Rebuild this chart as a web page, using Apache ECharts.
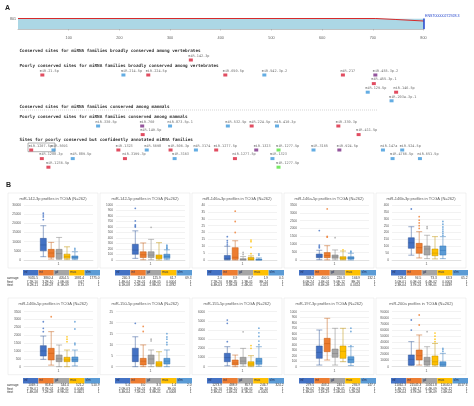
<!DOCTYPE html>
<html><head><meta charset="utf-8">
<script src="https://cdn.jsdelivr.net/npm/echarts@6/dist/echarts.min.js"></script>
<style>html,body{margin:0;padding:0;background:#fff}#c{width:474px;height:406px}</style>
</head><body><div id="c"></div>
<script>
// ================= Panel A data =================
const utrLength = 801;
const transcriptId = 'ENST00000272928.3';
const conservPos = [0, 706, 708, 744, 746, 801];
const conservVal = [100, 100, 91, 91, 76, 76];
const sectionTitles = [
  'Conserved sites for miRNA families broadly conserved among vertebrates',
  'Poorly conserved sites for miRNA families broadly conserved among vertebrates',
  'Conserved sites for miRNA families conserved among mammals',
  'Poorly conserved sites for miRNA families conserved among mammals',
  'Sites for poorly conserved but confidently annotated miRNA families'
];
const siteNames = ['miR-142-3p',
  'miR-21-5p','miR-214-5p','miR-224-5p','miR-650-5p','miR-542-3p.2','miR-217','miR-455-3p.2','miR-455-3p.1','miR-129-5p','miR-146-5p','miR-203a-3p.1',
  'miR-330-5p','miR-760','miR-149-5p','miR-873-5p.1','miR-532-5p','miR-224-5p','miR-410-3p','miR-330-3p','miR-411-5p',
  'miR-1207-5p','miR-5691','miR-1288-3p','miR-1236-5p','miR-889-5p','miR-1323','miR-3199-3p','miR-5698','miR-506-3p','miR-3163','miR-3174','miR-1277-5p','miR-1277-5p','miR-1323','miR-1323','miR-1277-5p','miR-1277-5p','miR-3165','miR-924-5p','miR-147a','miR-4766-5p','miR-524-5p','miR-651-5p'];
const sitePos = [341,
  48,208,257,409,486,641,705,702,690,746,737,
  158,245,246,300,414,461,511,632,672,
  26,70,47,60,108,198,211,254,301,309,351,391,428,470,502,514,514,583,634,720,739,758,793];
const siteSection = [0,
  1,1,1,1,1,1,1,1,1,1,1,
  3,3,3,3,3,3,3,3,3,
  4,4,4,4,4,4,4,4,4,4,4,4,4,4,4,4,4,4,4,4,4,4,4];
const siteLevel = [0,
  0,0,0,0,0,0,0,1,2,2,3,
  0,0,1,0,0,0,0,0,1,
  0,0,1,2,1,0,1,0,0,1,0,0,1,0,1,0,2,0,0,0,1,0,1];
const siteType = [0,
  0,1,0,0,1,0,2,0,1,0,1,
  1,2,0,1,1,0,1,0,0,
  0,1,0,0,1,0,0,1,0,1,1,0,0,2,1,3,3,1,2,1,1,1,1];

// ================= Panel B data =================
const groups = ['inf','int','gd','muc','slm'];
const chartTitles = ['miR-142-3p','miR-142-5p','miR-146a-3p','miR-146a-5p','miR-146b-3p',
  'miR-146b-5p','miR-150-5p','miR-155-5p','miR-197-3p','miR-200a'];
const yMax  = [30000, 1000, 40, 3500, 400, 3500, 25, 6000, 1000, 90000];
const yStep = [5000, 100, 5, 500, 50, 500, 5, 1000, 100, 10000];
const boxStats = [
  [[1800,5000,8200,11800,18700],[500,1500,3800,5800,9600],[300,800,3500,5800,12300],[200,900,1800,3200,7200],[200,800,1400,2200,4500]],
  [[30,105,180,285,530],[5,45,95,150,310],[5,45,90,150,375],[0,25,55,90,315],[5,30,65,105,185]],
  [[0,0.3,1,3.3,10],[0,0.5,2,9,14],[0,0.1,0.3,1,2.5],[0,0.2,0.6,1.8,3],[0,0.1,0.2,0.6,1.5]],
  [[20,150,250,380,620],[10,150,280,470,910],[10,110,200,320,640],[5,45,120,210,570],[5,60,130,205,430]],
  [[35,85,125,162,242],[15,49,90,121,206],[10,36,80,102,180],[8,31,50,80,170],[10,36,70,102,170]],
  [[470,680,1000,1340,1950],[100,430,850,1170,2230],[0,320,500,745,1380],[0,320,430,600,1060],[50,320,450,620,1060]],
  [[0,2.3,5,8.4,13.6],[0,0.8,2.5,3.8,9.9],[0,1.2,3.5,5.3,7.6],[0,0.3,1.2,2.3,6.8],[0,1.2,2.5,3.8,7.6]],
  [[100,545,1000,1460,2180],[0,185,400,730,1270],[50,290,600,1020,2000],[0,110,300,545,1200],[50,260,600,910,2180]],
  [[30,152,260,376,667],[121,273,420,516,880],[30,170,240,321,698],[91,152,280,376,698],[20,73,130,182,364]],
  [[2000,2700,12000,19100,41000],[2700,11000,18000,27300,51900],[1000,2800,9000,15400,32700],[1000,2800,8000,17500,38000],[500,1500,4000,8000,21800]]
];
const outliers = [
  [[0,22000],[0,23500],[0,24500],[0,25500],[4,5500],[4,6300]],
  [[0,600],[0,620],[0,640],[0,710],[0,940],[2,595],[4,200],[4,215],[4,230],[4,250],[4,270]],
  [[0,11],[0,12.5],[0,14],[0,17],[1,20],[1,28],[1,35.5],[2,4],[2,5.5],[3,4.6],[3,9.2],[3,13.3],[3,14.5],[4,3.5],[4,4.5]],
  [[0,780],[0,860],[0,950],[0,1870],[1,1450],[1,1500],[1,3250],[2,1420],[3,650],[4,500],[4,560]],
  [[0,371],[1,230],[1,250],[1,270],[1,290],[1,315],[2,230],[2,242],[4,180],[4,195],[4,210],[4,225],[4,240],[4,260],[4,280]],
  [[0,2230],[0,2440],[0,2860],[1,3180],[3,1590],[3,1750],[3,1900],[4,1400],[4,1500],[4,2400],[4,2860]],
  [[0,19.7],[1,16],[1,18.3],[2,11.7],[2,12.5],[4,10],[4,11],[4,12.5],[4,13.5],[4,15]],
  [[0,2730],[0,4730],[0,5090],[2,3800],[3,2000],[3,2300],[4,2400],[4,2800],[4,3300],[4,3700],[4,4200]],
  [[4,380],[4,640],[4,700]],
  [[0,60000],[0,76400],[1,68200],[1,84600],[2,57300],[3,41000],[3,45000],[3,50000],[3,55000],[4,25000],[4,28000],[4,30000]]
];
const averages = [
  [9055.5,3860.4,4054.5,1881.4,1775.0],[240.3,116.8,125.9,61.7,69.3],[2.0,3.9,0.7,1.9,0.5],
  [348.2,400.5,220.3,166.9,132.1],[128.4,94.5,73.3,63.3,65.2],[1069.1,818.2,544.4,521.2,510.9],
  [5.4,3.0,3.3,1.4,2.0],[1273.9,488.9,857.8,246.7,324.2],[279.5,403.2,240.1,284.9,147.7],
  [11062.3,21545.3,10561.8,11640.3,4517.6]
];
const fTests = [
  ['7.2E-10','3.2E-10','1.0E-06','0.67','1'],['1.4E-04','2.2E-01','4.6E-05','0.0004','1'],
  ['7.2E-20','8.8E-35','1.3E-01','8E-24','1'],['6.0E-24','1.4E-01','9.0E-12','8E-26','1'],
  ['5.0E-01','6.0E-01','6.4E-02','0.0003','1'],['2.7E-01','8.7E-01','1.0E-01','0.0046','1'],
  ['2.0E-03','1.5E-01','4.1E-01','3E-06','1'],['1.1E-10','1.3E-10','5.6E-01','1E-10','1'],
  ['1.7E-02','3.3E-03','4.2E-01','7.1E-03','1'],['1.4E-15','1.6E-17','6.4E-09','9.0E-12','1']
];
const tTests = [
  ['8.2E-11','4.4E-07','8.1E-09','0.71','1'],['6.1E-08','2.0E-04','2.8E-05','0.4782','1'],
  ['6.4E-03','2.3E-03','2.4E-01','0.023','1'],['3.8E-09','8.4E-09','1.4E-03','0.0324','1'],
  ['2.3E-04','3.7E-01','3.9E-01','0.0439','1'],['1.4E-08','7.2E-09','8.9E-01','0.4601','1'],
  ['5.4E-04','7.5E-01','3.8E-01','0.0008','1'],['2.3E-02','1.4E-01','8.1E-01','0.0005','1'],
  ['1.3E-09','1.1E-19','2.0E-04','5.2E-08','1'],['2.0E-04','3.7E-09','1.1E-09','1.6E-04','1']
];
const tableRowNames = ['average','ftest','ttest'];

// ================= styles & layout =================
const siteColors = ['#d9213a','#3d98dc','#7b2c84','#55e53c'];
const groupColors = ['#4472C4','#ED7D31','#A5A5A5','#FFC000','#5B9BD5'];
const groupLines  = ['#2f5597','#c55a11','#7f7f7f','#bf9000','#2e75b6'];
const MONO = 'DejaVu Sans Mono', SANS = 'Liberation Sans';

const grids=[], xAxes=[], yAxes=[], series=[], els=[];
function txt(x,y,text,o){o=o||{};els.push({type:'text',x:x,y:y,silent:true,z:10,style:{text:text,fill:o.fill||'#333',fontSize:o.size||4,fontFamily:o.font||SANS,fontWeight:o.weight||'normal',align:o.align||'left',verticalAlign:o.va||'middle'}});}

// ---- Panel A: transcript bar ----
els.push({type:'text',x:5,y:8,style:{text:'A',fontSize:7,fontWeight:'bold',fontFamily:SANS,fill:'#222',verticalAlign:'middle'}});
grids.push({left:18, top:18.5, width:406, height:10.5, outerBoundsMode:'none'});
xAxes.push({type:'value', gridIndex:0, min:0, max:utrLength, interval:100, offset:5,
  axisLine:{lineStyle:{color:'#999',width:0.6}}, axisTick:{length:1.5,lineStyle:{color:'#999',width:0.5}},
  axisLabel:{fontSize:3.8,color:'#666',margin:2,showMinLabel:false,showMaxLabel:false,fontFamily:SANS}, splitLine:{show:false}});
yAxes.push({type:'value', gridIndex:0, min:0, max:100, show:false});
series.push({type:'line', xAxisIndex:0, yAxisIndex:0, data:[[0,100],[utrLength,100]], symbol:'none', silent:true,
  lineStyle:{width:0}, areaStyle:{color:'#acd7e5',opacity:1},
  markLine:{symbol:'none', silent:true, animation:false, lineStyle:{color:'#2244cc',width:1.5,type:'solid'}, label:{show:false}, data:[{xAxis:utrLength}]}});
series.push({type:'line', xAxisIndex:0, yAxisIndex:0, data:conservPos.map((p,i)=>[p,conservVal[i]]), symbol:'none', silent:true,
  lineStyle:{color:'#d62a2a',width:1}});
txt(425,15.5,transcriptId,{fill:'#2244cc',size:3.6});
txt(10,18.5,String(utrLength),{fill:'#555',size:3.6});

// ---- Panel A: sites ----
const sitesTop = 50, rowStep = 8.6;
const sectionRowY = [10, 25, null, 76, 100];
const headerY = [50.7, 66, 107, 117, 140.3];
sectionTitles.forEach((t,i)=>txt(19.5, headerY[i], t, {font:MONO, size:4.3, weight:'bold', fill:'#333'}));
els.push({type:'line',silent:true,shape:{x1:20,y1:110,x2:377,y2:110},style:{stroke:'#aaa',lineWidth:0.5,lineDash:[1,1]}});
els.push({type:'rect',silent:true,shape:{x:28,y:143,width:27,height:8.7},style:{fill:'none',stroke:'#666',lineWidth:0.5}});
grids.push({left:18, top:sitesTop, width:406, height:130, outerBoundsMode:'none'});
xAxes.push({type:'value', gridIndex:1, min:0, max:utrLength, show:false});
yAxes.push({type:'value', gridIndex:1, min:0, max:130, inverse:true, show:false});
series.push({type:'scatter', xAxisIndex:1, yAxisIndex:1, symbol:'rect', symbolSize:[4,3], clip:false, silent:true,
  data: siteNames.map((n,i)=>({name:n, value:[sitePos[i], sectionRowY[siteSection[i]] + siteLevel[i]*rowStep],
    itemStyle:{color:siteColors[siteType[i]]}})),
  label:{show:true, formatter:'{b}', position:[-0.5,-0.6], align:'left', verticalAlign:'bottom',
    fontSize:3.5, fontFamily:MONO, color:'#444'}});

// ---- Panel B ----
els.push({type:'text',x:6,y:185,style:{text:'B',fontSize:7,fontWeight:'bold',fontFamily:SANS,fill:'#222',verticalAlign:'middle'}});
const rows = [
  {top:193, plotTop:205, plotBottom:260, stripTop:270, tableY:278.3},
  {top:298, plotTop:311.7, plotBottom:366.7, stripTop:378, tableY:385.6}
];
const cellW = 15.4, rowH = 3.4;
chartTitles.forEach((name, c) => {
  const r = rows[Math.floor(c/5)], left = 8 + 92*(c%5);
  const plotL = left + 16, plotW = 69, plotH = r.plotBottom - r.plotTop;
  els.push({type:'rect',silent:true,z:0,shape:{x:left,y:r.top,width:90,height:r.plotBottom+8-r.top},style:{fill:'none',stroke:'#e2e2e2',lineWidth:0.5}});
  txt(left+45, r.top+6, name + ' profiles in TCGA (N=262)', {align:'center', size:4, fill:'#595959'});
  // frame grid (y labels, split lines, category "1")
  const gi = grids.length;
  grids.push({left:plotL, top:r.plotTop, width:plotW, height:plotH, outerBoundsMode:'none'});
  xAxes.push({type:'category', gridIndex:gi, data:['1'], axisTick:{show:false},
    axisLine:{lineStyle:{color:'#d0d0d0',width:0.5}}, axisLabel:{fontSize:3.5,color:'#595959',margin:2,fontFamily:SANS}});
  yAxes.push({type:'value', gridIndex:gi, min:0, max:yMax[c], interval:yStep[c], axisLine:{show:false}, axisTick:{show:false},
    splitLine:{lineStyle:{color:'#e4e4e4',width:0.5}},
    axisLabel:{fontSize:3.2,color:'#595959',margin:3,fontFamily:SANS,formatter:v=>String(v)}});
  // box grid
  const bi = grids.length, center = plotL + plotW/2 + 0.6, bw = 39.5;
  grids.push({left:center-bw/2, top:r.plotTop, width:bw, height:plotH, outerBoundsMode:'none'});
  xAxes.push({type:'category', gridIndex:bi, data:groups, show:false});
  yAxes.push({type:'value', gridIndex:bi, min:0, max:yMax[c], show:false});
  series.push({type:'boxplot', xAxisIndex:bi, yAxisIndex:bi, boxWidth:[6,6], silent:true,
    data: boxStats[c].map((s,j)=>({value:s, itemStyle:{color:groupColors[j], borderColor:groupLines[j], borderWidth:0.5}}))});
  series.push({type:'scatter', xAxisIndex:bi, yAxisIndex:bi, symbol:'circle', symbolSize:1.8, silent:true,
    data: outliers[c].map(o=>({value:o, itemStyle:{color:groupColors[o[0]]}}))});
  // legend strip
  const sx = left + 15;
  groups.forEach((g,j)=>{
    els.push({type:'rect',silent:true,shape:{x:sx+cellW*j,y:r.stripTop,width:cellW,height:5.5},style:{fill:groupColors[j]}});
    txt(sx+cellW*j+1, r.stripTop+2.6, g, {size:3.2, fill:'#1f2a55'});
  });
  // table (row names only on the first chart of each row)
  const tbl = [averages[c].map(v=>v.toFixed(1)), fTests[c], tTests[c]];
  tbl.forEach((vals,k)=>{
    const y = r.tableY + k*rowH;
    if (c % 5 === 0) txt(left-1, y, tableRowNames[k], {size:3.2, fill:'#333'});
    vals.forEach((v,j)=>txt(sx+cellW*(j+1)-0.5, y, v, {size:3.2, fill:'#333', align:'right'}));
  });
});

const chart = echarts.init(document.getElementById('c'), null, {renderer:'canvas', width:474, height:406});
chart.setOption({
  animation:false,
  backgroundColor:'#fff',
  textStyle:{fontFamily:SANS},
  grid:grids, xAxis:xAxes, yAxis:yAxes, series:series,
  graphic:{elements:els}
});
</script>
</body></html>
